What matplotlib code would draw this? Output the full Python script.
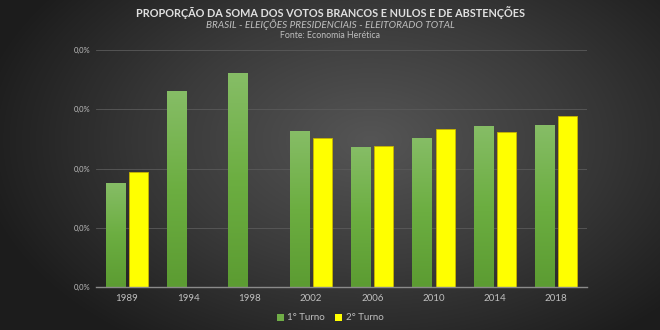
import numpy as np
import matplotlib
matplotlib.use("Agg")
import matplotlib.pyplot as plt
from matplotlib.patches import Patch
from matplotlib.colors import LinearSegmentedColormap

years = ["1989", "1994", "1998", "2002", "2006", "2010", "2014", "2018"]
turno1 = [0.176, 0.331, 0.361, 0.263, 0.237, 0.252, 0.272, 0.273]
turno2 = [0.194, np.nan, np.nan, 0.252, 0.2385, 0.267, 0.261, 0.288]
ytick_vals = [0.0, 0.1, 0.2, 0.3, 0.4]
ytick_labels = ["0,0%", "0,0%", "0,0%", "0,0%", "0,0%"]
series_names = ["1° Turno", "2° Turno"]

plt.rcParams['font.family'] = ['Lato', 'DejaVu Sans']

fig = plt.figure(figsize=(6.6, 3.3), dpi=100)

# radial background
bg = fig.add_axes([0, 0, 1, 1], zorder=-10)
yy, xx = np.mgrid[0:330, 0:660]
cx, cy = 370, 140
r = np.sqrt(((xx - cx) / 400.0) ** 2 + ((yy - cy) / 250.0) ** 2)
r = np.clip(r, 0, 1)
bgcmap = LinearSegmentedColormap.from_list("bg", ["#555555", "#3b3b3b", "#1c1c1c"])
bg.imshow(r, cmap=bgcmap, aspect='auto', extent=[0, 1, 0, 1], origin='upper', vmin=0, vmax=1)
bg.set_axis_off()

ax = fig.add_axes([96/660, (330-287)/330, (587-96)/660, (287-50)/330])
ax.set_facecolor('none')
x = np.arange(len(years))
w = 0.31
off = 0.19

green_cmap = LinearSegmentedColormap.from_list("g", ["#5c9c32", "#6cae41", "#86bd66"])
grad = np.linspace(0, 1, 100).reshape(-1, 1)

bars1 = ax.bar(x - off, turno1, width=w, color="#6aaa3c", edgecolor="#5a8f33", linewidth=0.6, zorder=3)
for b in bars1:
    h = b.get_height()
    if np.isnan(h):
        continue
    im = ax.imshow(grad, cmap=green_cmap, aspect='auto', origin='lower',
                   extent=[b.get_x(), b.get_x() + b.get_width(), 0, h], zorder=3.5)
    im.set_clip_path(b)
bars2 = ax.bar(x + off, turno2, width=w, color="#ffff00", edgecolor="#c8b400", linewidth=0.6, zorder=3)

ax.set_xlim(-0.5, 7.5)
ax.set_ylim(0, 0.4)
ax.set_yticks(ytick_vals)
ax.set_yticklabels(ytick_labels)
ax.set_xticks(x)
ax.set_xticklabels(years)
ax.tick_params(axis='both', length=0, colors="#bfbfbf")
ax.tick_params(axis='y', labelsize=5.5)
ax.tick_params(axis='x', labelsize=7, pad=5)
ax.grid(axis='y', color="#5a5a5a", linewidth=0.6, zorder=0)
ax.set_axisbelow(True)
for s in ['top', 'right', 'left']:
    ax.spines[s].set_visible(False)
ax.spines['bottom'].set_color("#8a8a8a")
ax.spines['bottom'].set_linewidth(1.0)
ax.spines['bottom'].set_zorder(5)
for lbl in ax.get_yticklabels():
    lbl.set_horizontalalignment('left')
ax.tick_params(axis='y', pad=16)

fig.text(0.5, 1 - 13/330, "PROPORÇÃO DA SOMA DOS VOTOS BRANCOS E NULOS E DE ABSTENÇÕES",
         ha='center', va='center', color="#e0e0e0", fontsize=7.8, fontweight='bold')
fig.text(0.5, 1 - 25/330, "BRASIL - ELEIÇÕES PRESIDENCIAIS - ELEITORADO TOTAL",
         ha='center', va='center', color="#bfbfbf", fontsize=7.2, style='italic')
fig.text(0.5, 1 - 36/330, "Fonte: Economia Herética",
         ha='center', va='center', color="#bfbfbf", fontsize=6.3)

handles = [Patch(facecolor="#70ad47", edgecolor="none"), Patch(facecolor="#ffff00", edgecolor="none")]
leg = fig.legend(handles, series_names, loc='center', bbox_to_anchor=(0.5, 1 - 318/330), ncol=2,
                 frameon=False, fontsize=7, labelcolor="#bfbfbf", handlelength=0.7, handleheight=0.7,
                 handletextpad=0.4, columnspacing=1.0)

fig.savefig("out.png", dpi=100, facecolor="#2a2a2a")
